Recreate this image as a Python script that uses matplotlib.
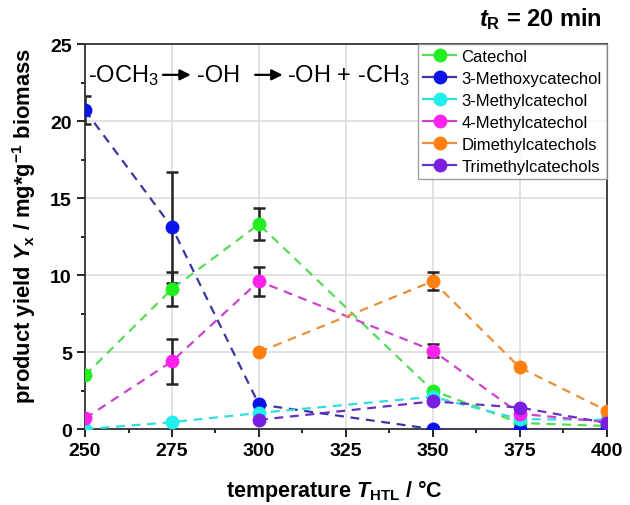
import numpy as np
import matplotlib.pyplot as plt
from matplotlib.ticker import MultipleLocator

plt.rcParams['font.family'] = ['Liberation Sans', 'DejaVu Sans']
plt.rcParams['mathtext.fontset'] = 'custom'
plt.rcParams['mathtext.rm'] = 'Liberation Sans:bold'
plt.rcParams['mathtext.bf'] = 'Liberation Sans:bold'
plt.rcParams['mathtext.it'] = 'Liberation Sans:italic:bold'

temps = [250, 275, 300, 350, 375, 400]
names = ['Catechol', '3-Methoxycatechol', '3-Methylcatechol', '4-Methylcatechol',
         'Dimethylcatechols', 'Trimethylcatechols']

catechol = [3.5, 9.1, 13.3, 2.5, 0.4, 0.2]
methoxy = [20.7, 13.1, 1.6, 0.0, 0.0, 0.0]
methyl3 = [0.0, 0.45, 1.05, 2.1, 0.65, 0.6]
methyl4 = [0.7, 4.4, 9.6, 5.1, 1.0, 0.45]
dimethyl = [np.nan, np.nan, 5.0, 9.6, 4.0, 1.2]
trimethyl = [np.nan, np.nan, 0.6, 1.8, 1.4, 0.4]

err_catechol = [0, 1.1, 1.05, 0, 0, 0]
err_methoxy = [0.9, 3.6, 0, 0, 0, 0]
err_methyl3 = [0, 0, 0, 0, 0, 0]
err_methyl4 = [0, 1.45, 0.95, 0.4, 0, 0]
err_dimethyl = [0, 0, 0, 0.6, 0, 0]
err_trimethyl = [0, 0, 0, 0, 0, 0]

marker_colors = ['#22ee22', '#0a14e6', '#22eeee', '#ff22ee', '#ff7f10', '#7a1fe0']
line_colors = ['#55dd55', '#3838a0', '#33dddd', '#cc44cc', '#e8903a', '#6a30c0']

series = [catechol, methoxy, methyl3, methyl4, dimethyl, trimethyl]
errors = [err_catechol, err_methoxy, err_methyl3, err_methyl4, err_dimethyl, err_trimethyl]

fig = plt.figure(figsize=(6.3, 5.06), dpi=100)
ax = fig.add_axes([0.135, 0.150, 0.828, 0.761])

for name, y, e, mc, lc in zip(names, series, errors, marker_colors, line_colors):
    y = np.array(y, dtype=float)
    e = np.array(e, dtype=float)
    ok = ~np.isnan(y)
    x = np.array(temps)[ok]
    has_err = e[ok] > 0
    ax.errorbar(x[has_err], y[ok][has_err], yerr=e[ok][has_err], fmt='none',
                ecolor='#222222', elinewidth=1.8, capsize=4, capthick=1.8, zorder=2)
    ax.plot(x, y[ok], ls=(0, (4, 3)), color=lc, lw=1.6, zorder=3)
    ax.plot(x, y[ok], ls='none', marker='o', ms=9, color=mc, zorder=4)
    # legend proxy
    ax.plot([], [], ls='-', color=lc, lw=1.6, marker='o', ms=9, mfc=mc, mec=mc, label=name)

ax.set_xlim(250, 400)
ax.set_ylim(0, 25)
ax.xaxis.set_major_locator(MultipleLocator(25))
ax.xaxis.set_minor_locator(MultipleLocator(12.5))
ax.yaxis.set_major_locator(MultipleLocator(5))
ax.yaxis.set_minor_locator(MultipleLocator(2.5))
ax.grid(True, which='major', color='#dddddd', lw=1.2)
ax.set_axisbelow(True)
ax.tick_params(which='major', direction='out', length=6, width=1.2, labelsize=14)
ax.tick_params(which='minor', direction='out', length=3, width=1.2)
for lab in ax.get_xticklabels() + ax.get_yticklabels():
    lab.set_fontweight('bold')
for sp in ax.spines.values():
    sp.set_linewidth(1.3)
    sp.set_color('#333333')

ax.set_xlabel(r'temperature $\mathit{T}_{\mathregular{HTL}}$ / °C', fontsize=15.5,
              fontweight='bold')
ax.xaxis.set_label_coords(0.477, -0.125)
ax.set_ylabel(r'product yield $\mathit{Y}_{\mathregular{x}}$ / mg*g$^{\mathregular{-1}}$ biomass',
              fontsize=15.8, fontweight='bold')
ax.yaxis.set_label_coords(-0.09, 0.53)

# reaction scheme: text pieces with arrows between them
ax.text(250.9, 23, '-OCH$\\mathregular{_3}$', fontsize=17, va='center', ha='left', zorder=1)
ax.text(282.2, 23, '-OH', fontsize=17, va='center', ha='left', zorder=1)
ax.text(308.0, 23, '-OH + -CH$\\mathregular{_3}$', fontsize=17, va='center', ha='left', zorder=1)
for x0, x1 in [(272.4, 280.4), (298.9, 306.8)]:
    ax.annotate('', xy=(x1, 23), xytext=(x0, 23),
                arrowprops=dict(arrowstyle='-|>', color='black', lw=1.6, mutation_scale=16,
                                shrinkA=0, shrinkB=0))

fig.text(0.955, 0.962, r'$\mathit{t}_{\mathregular{R}}$ = 20 min', fontsize=17,
         fontweight='bold', ha='right', va='center')

leg = ax.legend(loc='upper right', fontsize=12, frameon=True, fancybox=False,
                edgecolor='#888888', borderpad=0.3, labelspacing=0.42, handlelength=2.0,
                handletextpad=0.3, borderaxespad=0.0, bbox_to_anchor=(1.0, 1.0))
leg.get_frame().set_linewidth(1.0)
leg.set_zorder(5)

fig.savefig('out.png', dpi=100)
